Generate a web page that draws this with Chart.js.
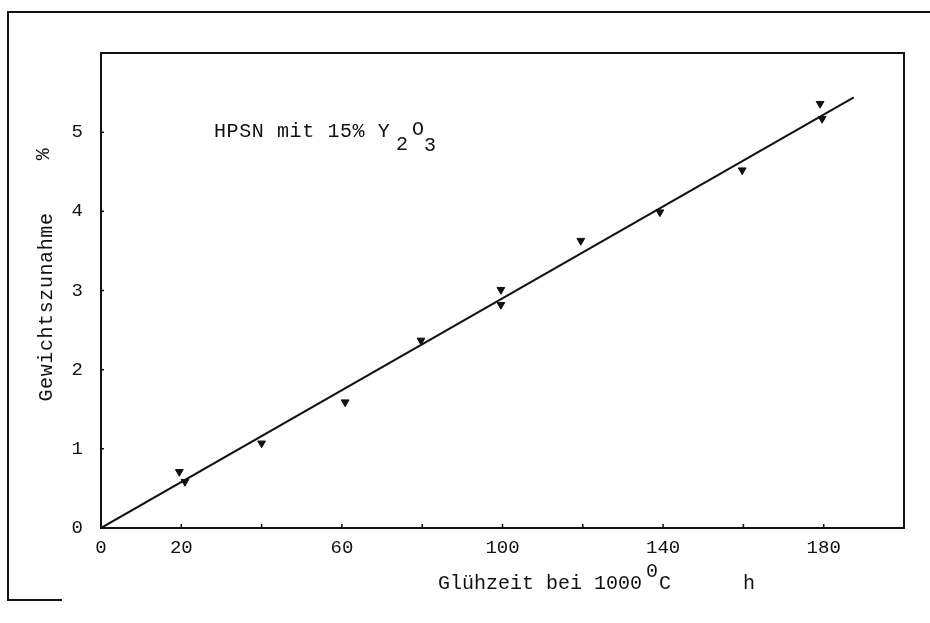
<!DOCTYPE html>
<html>
<head>
<meta charset="utf-8">
<script src="https://cdn.jsdelivr.net/npm/chart.js@4"></script>
<style>
  html, body { margin: 0; padding: 0; background: #fff; }
  #wrap { width: 930px; height: 623px; }
</style>
</head>
<body>
<div id="wrap"><canvas id="oxChart" width="930" height="623"></canvas></div>
<script>
// Gewichtszunahme HPSN mit 15% Y2O3 bei 1000 C
const hours = [19.5, 20.9, 40, 60.8, 79.7, 99.6, 99.6, 119.5, 139.2, 159.7, 179.1, 179.6];
const gain = [0.71, 0.585, 1.07, 1.59, 2.37, 3.01, 2.82, 3.63, 3.99, 4.52, 5.36, 5.17];
const fitHours = [0, 187.5];
const fitGain = [0, 5.44];
const xLabels = [0, 20, 60, 100, 140, 180];
const yLabels = [0, 1, 2, 3, 4, 5];

const ink = '#111';
const mono = '"Liberation Mono", "DejaVu Sans Mono", monospace';

// Rahmen, innere Striche und Beschriftung
const paperPlugin = {
  id: 'paper',
  beforeDraw(chart) {
    const c = chart.ctx;
    c.save();
    c.fillStyle = '#fff';
    c.fillRect(0, 0, chart.width, chart.height);
    c.restore();
  },
  afterDraw(chart) {
    const c = chart.ctx;
    const a = chart.chartArea;
    const xs = chart.scales.x, ys = chart.scales.y;
    c.save();
    c.strokeStyle = ink;
    c.lineWidth = 2;
    // outer sheet frame
    c.beginPath();
    c.moveTo(930, 12); c.lineTo(8, 12); c.lineTo(8, 600); c.lineTo(62, 600);
    c.stroke();
    // plot box
    c.strokeRect(a.left, a.top, a.right - a.left, a.bottom - a.top);
    // inward tick marks
    c.lineWidth = 1.5;
    c.beginPath();
    for (let v = 20; v < 200; v += 20) {
      const px = xs.getPixelForValue(v);
      c.moveTo(px, a.bottom); c.lineTo(px, a.bottom - 4);
    }
    for (let v = 1; v < 6; v++) {
      const py = ys.getPixelForValue(v);
      c.moveTo(a.left, py); c.lineTo(a.left + 3, py);
    }
    c.stroke();

    c.fillStyle = ink;
    c.font = '20px ' + mono;
    c.textBaseline = 'alphabetic';
    c.textAlign = 'left';
    // annotation (typewriter spacing is a bit wider)
    c.letterSpacing = '0.6px';
    c.fillText('HPSN mit 15% Y', 214, 137);
    c.fillText('2', 396, 150);
    c.fillText('O', 412, 135);
    c.fillText('3', 424, 151);
    c.letterSpacing = '0px';
    // x title
    c.fillText('Glühzeit bei 1000', 438, 589);
    c.fillText('0', 646, 577);
    c.fillText('C', 659, 589);
    c.fillText('h', 743, 589);
    // y title
    c.letterSpacing = '0.6px';
    c.save();
    c.translate(47, 307);
    c.rotate(-Math.PI / 2);
    c.textAlign = 'center';
    c.textBaseline = 'middle';
    c.fillText('Gewichtszunahme', 0, 0);
    c.restore();
    c.save();
    c.translate(44, 154);
    c.rotate(-Math.PI / 2);
    c.textAlign = 'center';
    c.textBaseline = 'middle';
    c.fillText('%', 0, 0);
    c.restore();
    c.restore();
  }
};

const ctx = document.getElementById('oxChart').getContext('2d');
const oxChart = new Chart(ctx, {
  type: 'scatter',
  data: {
    datasets: [
      {
        label: 'Messwerte',
        data: hours.map((h, i) => ({ x: h, y: gain[i] })),
        pointStyle: 'triangle',
        rotation: 180,
        pointRadius: 4.5,
        backgroundColor: ink,
        borderColor: ink,
        borderWidth: 1
      },
      {
        label: 'Ausgleichsgerade',
        data: fitHours.map((h, i) => ({ x: h, y: fitGain[i] })),
        showLine: true,
        pointRadius: 0,
        borderColor: ink,
        borderWidth: 2,
        fill: false
      }
    ]
  },
  options: {
    responsive: false,
    animation: false,
    layout: { padding: { top: 53, right: 26, left: 0, bottom: 0 } },
    plugins: {
      legend: { display: false },
      tooltip: { enabled: false }
    },
    scales: {
      x: {
        type: 'linear',
        min: 0,
        max: 200,
        afterFit(scale) { scale.height = 95; },
        afterBuildTicks(scale) { scale.ticks = xLabels.map(v => ({ value: v })); },
        grid: { display: false, drawTicks: false },
        border: { display: true, color: ink, width: 2 },
        ticks: {
          color: ink,
          padding: 9,
          maxRotation: 0,
          autoSkip: false,
          font: { family: mono, size: 19 }
        }
      },
      y: {
        type: 'linear',
        min: 0,
        max: 6,
        afterFit(scale) { scale.width = 101; },
        afterBuildTicks(scale) { scale.ticks = yLabels.map(v => ({ value: v })); },
        grid: { display: false, drawTicks: false },
        border: { display: true, color: ink, width: 2 },
        ticks: {
          color: ink,
          padding: 18,
          autoSkip: false,
          font: { family: mono, size: 19 }
        }
      }
    }
  },
  plugins: [paperPlugin]
});
</script>
</body>
</html>
